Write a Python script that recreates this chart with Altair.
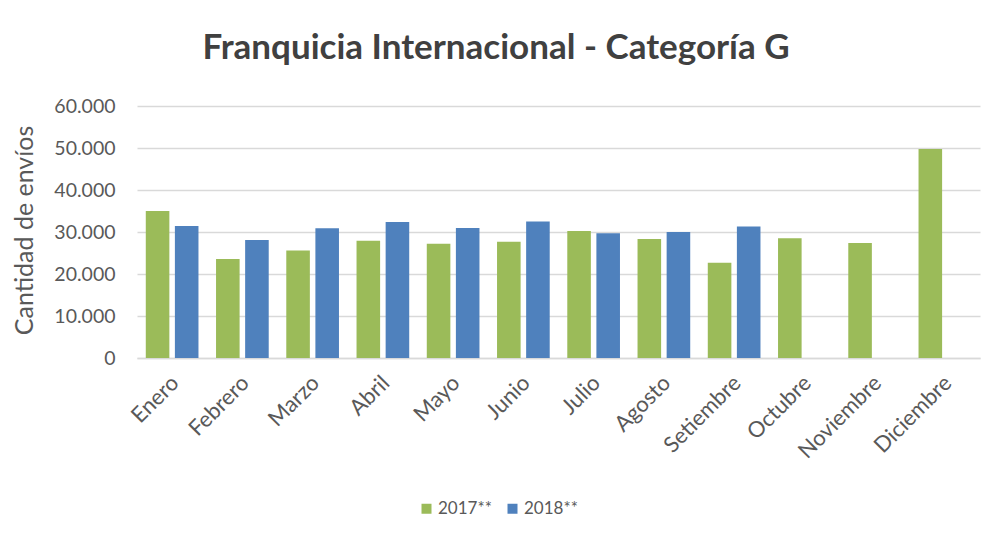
import altair as alt
import pandas as pd

months = ["Enero", "Febrero", "Marzo", "Abril", "Mayo", "Junio", "Julio",
          "Agosto", "Setiembre", "Octubre", "Noviembre", "Diciembre"]
v2017 = [35000, 23600, 25600, 27900, 27200, 27700, 30250, 28350, 22700, 28500, 27400, 49750]
v2018 = [31400, 28100, 30900, 32400, 30950, 32500, 29700, 30000, 31300, None, None, None]
series = ["2017**", "2018**"]
colors = ["#9BBB59", "#4F81BD"]
yticks = [0, 10000, 20000, 30000, 40000, 50000, 60000]

rows = []
for m, a, b in zip(months, v2017, v2018):
    rows.append({"mes": m, "serie": series[0], "valor": a})
    if b is not None:
        rows.append({"mes": m, "serie": series[1], "valor": b})
df = pd.DataFrame(rows)

FONT = "Lato"

bars = alt.Chart(df).mark_bar().encode(
    x=alt.X("mes:N", sort=months,
            scale=alt.Scale(paddingInner=0.25, paddingOuter=0.125),
            axis=alt.Axis(title=None, labelAngle=-45, labelAlign="right", labelBaseline="top",
                          labelFontSize=22, labelColor="#595959", labelFont=FONT,
                          ticks=False, domainColor="#d9d9d9", domainWidth=1.5,
                          labelPadding=14, grid=False)),
    xOffset=alt.XOffset("serie:N", sort=series, scale=alt.Scale(paddingInner=0.19, paddingOuter=0)),
    y=alt.Y("valor:Q", scale=alt.Scale(domain=[0, 60000], nice=False),
            axis=alt.Axis(values=yticks, title="Cantidad de envíos",
                          labelExpr="replace(format(datum.value, ',d'), ',', '.')",
                          labelFontSize=19.5, labelColor="#595959", labelFont=FONT,
                          labelPadding=22, ticks=False, domain=False,
                          gridColor="#d9d9d9", gridWidth=1.5,
                          titleFontSize=25, titleFont=FONT, titleFontWeight="normal",
                          titleColor="#595959", titleX=-100, titleY=124)),
    color=alt.Color("serie:N", scale=alt.Scale(domain=series, range=colors),
                    legend=alt.Legend(orient="none", direction="horizontal",
                                      legendX=281, legendY=394,
                                      title=None, symbolType="square",
                                      symbolSize=100, labelFontSize=17, labelFont=FONT,
                                      labelColor="#595959", labelOffset=3,
                                      columnPadding=12, symbolStrokeWidth=0)),
)

chart = bars.properties(
    width=843, height=252,
    padding={"left": 3, "top": 23, "right": 5, "bottom": 5},
    title=alt.TitleParams("Franquicia Internacional - Categoría G", fontSize=35,
                          font=FONT, fontWeight="bold", color="#404040",
                          anchor="middle", frame="bounds", offset=30),
).configure_view(stroke=None).configure_axisX(labelOffset=-4)

chart.save("out.html", embed_options={"renderer": "svg", "actions": False})
